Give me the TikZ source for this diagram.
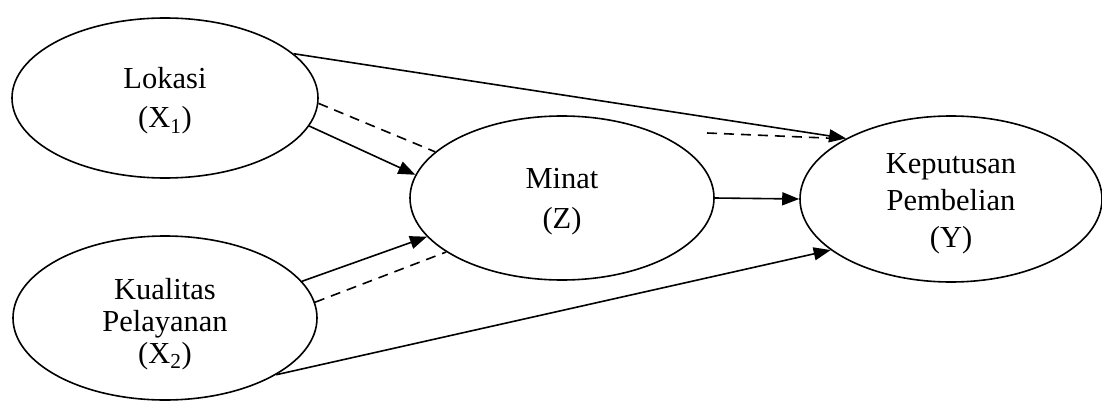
\documentclass[tikz,border=0pt]{standalone}
\usepackage{fontspec}
\setmainfont{Liberation Serif}
\usetikzlibrary{shapes.geometric,arrows.meta}
\begin{document}
\begin{tikzpicture}[x=1pt,y=-1pt,
  var/.style={draw,ellipse,line width=1.6pt,inner sep=0pt},
  txt/.style={inner sep=0pt,align=center},
  link/.style={line width=1.6pt,-{Triangle[length=17pt,width=13pt]}},
  dlink/.style={line width=1.6pt,dash pattern=on 10pt off 7pt}]
\useasboundingbox (0,0) rectangle (1102,401);
\node[var,minimum width=306pt,minimum height=160pt] (lok) at (165,98) {};
\node[var,minimum width=304pt,minimum height=164pt] (kual) at (165,318) {};
\node[var,minimum width=304pt,minimum height=164pt] (min) at (562,198) {};
\node[var,minimum width=302pt,minimum height=166pt] (kep) at (951,199) {};
\node[txt,font=\fontsize{30.5}{39}\selectfont] (lokt) at ([yshift=-3pt]lok.center) {Lokasi\\(X\textsubscript{1})};
\node[txt,font=\fontsize{30.5}{32}\selectfont] (kualt) at ([yshift=-6pt]kual.center) {Kualitas\\Pelayanan\\(X\textsubscript{2})};
\node[txt,font=\fontsize{30.5}{40}\selectfont] (mint) at ([yshift=-4pt]min.center) {Minat\\(Z)};
\node[txt,font=\fontsize{30.5}{37}\selectfont] (kept) at ([yshift=-5pt]kep.center) {Keputusan\\Pembelian\\(Y)};
\coordinate (d0) at (707,133);
% arrows
\draw[dlink] (d0) -- ([xshift=-10pt]kep.150);
\draw[link] (lok.19) -- (kep.150);
\draw[dlink] (lok.-2) -- (min.160);
\draw[link] (lok.-11) -- (min.171);
\draw[link] (kual.15) -- (min.-164);
\draw[dlink] (kual.6) -- (min.-155);
\draw[link] (min.east) -- (kep.west);
\draw[link] (kual.-27) -- (kep.-157);
\end{tikzpicture}
\end{document}
